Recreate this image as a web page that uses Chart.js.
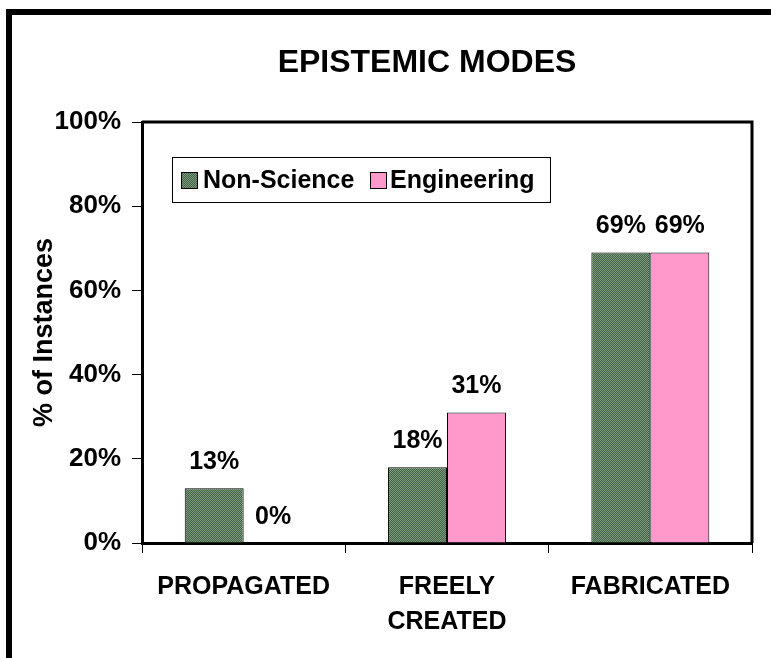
<!DOCTYPE html>
<html><head><meta charset="utf-8">
<script src="https://cdn.jsdelivr.net/npm/chart.js@4/dist/chart.umd.min.js"></script>
<style>
html,body{margin:0;padding:0;background:#fff;}
#wrap{position:relative;width:771px;height:658px;overflow:hidden;background:#fff;}
#frame{position:absolute;left:6px;top:9px;width:900px;height:900px;border-left:6px solid #000;border-top:6px solid #000;}
canvas{position:absolute;left:0;top:0;}
</style></head><body>
<div id="wrap"><div id="frame"></div><canvas id="c" width="771" height="658"></canvas></div>
<script>
const chartTitle = 'EPISTEMIC MODES';
const categories = ['PROPAGATED', ['FREELY', 'CREATED'], 'FABRICATED'];
const seriesNames = ['Non-Science', 'Engineering'];
const nonScience = [13, 18, 69];
const engineering = [0, 31, 69];
const yTicks = [0, 20, 40, 60, 80, 100];
const yTitle = '% of Instances';

const FONT = "'Liberation Sans', Arial, sans-serif";

function makeHatch() {
  const p = document.createElement('canvas');
  p.width = 4; p.height = 4;
  const g = p.getContext('2d');
  g.fillStyle = '#7a9a77';
  g.fillRect(0, 0, 4, 4);
  g.fillStyle = '#44634a';
  for (let i = 0; i < 4; i++) { g.fillRect(i, (3 - i), 1, 1); g.fillRect(i, (3 - i + 2) % 4, 1, 1); }
  return g.createPattern(p, 'repeat');
}
const hatch = makeHatch();
const pink = '#ff99cc';

const decor = {
  id: 'decor',
  afterDraw(chart) {
    const c = chart.ctx, a = chart.chartArea;
    c.save();
    c.fillStyle = '#000';
    c.font = 'bold 32px ' + FONT;
    c.textAlign = 'center'; c.textBaseline = 'middle';
    c.fillText(chartTitle, 427, 63);
    c.strokeStyle = '#000'; c.lineWidth = 3;
    c.beginPath();
    c.moveTo(a.left, a.top); c.lineTo(a.right, a.top); c.lineTo(a.right, a.bottom);
    c.stroke();
    c.lineWidth = 1;
    c.fillStyle = '#fff';
    c.fillRect(172.5, 157.5, 378, 45);
    c.strokeRect(172.5, 157.5, 378, 45);
    const items = [{x: 181, tx: 203, fill: hatch}, {x: 370, tx: 390, fill: pink}];
    c.font = 'bold 25px ' + FONT;
    c.textAlign = 'left'; c.textBaseline = 'middle';
    items.forEach((it, i) => {
      c.fillStyle = it.fill;
      c.fillRect(it.x + 0.5, 172.5, 16, 16);
      c.strokeStyle = '#000';
      c.strokeRect(it.x + 0.5, 172.5, 16, 16);
      c.fillStyle = '#000';
      c.fillText(seriesNames[i], it.tx, 181);
    });
    c.restore();
  },
  afterDatasetsDraw(chart) {
    const c = chart.ctx;
    c.save();
    c.fillStyle = '#000';
    c.font = 'bold 25px ' + FONT;
    c.textAlign = 'center'; c.textBaseline = 'middle';
    chart.data.datasets.forEach((ds, di) => {
      chart.getDatasetMeta(di).data.forEach((bar, i) => {
        c.fillText(ds.data[i] + '%', bar.x, bar.y - 26);
      });
    });
    c.restore();
  }
};

new Chart(document.getElementById('c'), {
  type: 'bar',
  data: {
    labels: categories,
    datasets: [
      {label: seriesNames[0], data: nonScience, backgroundColor: hatch, borderColor: '#000', borderWidth: 1, borderSkipped: 'start'},
      {label: seriesNames[1], data: engineering, backgroundColor: pink, borderColor: '#000', borderWidth: 1, borderSkipped: 'start'}
    ]
  },
  options: {
    responsive: false,
    animation: false,
    devicePixelRatio: 1,
    layout: {padding: {left: 26, right: 19, top: 122, bottom: 0}},
    datasets: {bar: {categoryPercentage: 0.58, barPercentage: 1}},
    plugins: {legend: {display: false}, title: {display: false}, tooltip: {enabled: false}},
    scales: {
      x: {
        grid: {offset: true, drawOnChartArea: false, drawTicks: true, tickLength: 10, color: '#000', lineWidth: 1},
        border: {display: true, color: '#000', width: 3},
        ticks: {color: '#000', padding: 17, maxRotation: 0, autoSkip: false, font: {family: FONT, size: 25, weight: 'bold', lineHeight: 1.4}},
        afterFit(s) { s.height = 115; }
      },
      y: {
        min: 0, max: 100,
        afterBuildTicks(s) { s.ticks = yTicks.map(v => ({value: v})); },
        grid: {drawOnChartArea: false, drawTicks: true, tickLength: 10, color: '#000', lineWidth: 1},
        border: {display: true, color: '#000', width: 3},
        ticks: {color: '#000', padding: 11, font: {family: FONT, size: 26, weight: 'bold'}, callback: v => v + '%'},
        title: {display: true, text: yTitle, color: '#000', padding: {top: 2, bottom: 0}, font: {family: FONT, size: 27, weight: 'bold'}},
        afterFit(s) { s.width = 116; }
      }
    }
  },
  plugins: [decor]
});
</script>
</body></html>
